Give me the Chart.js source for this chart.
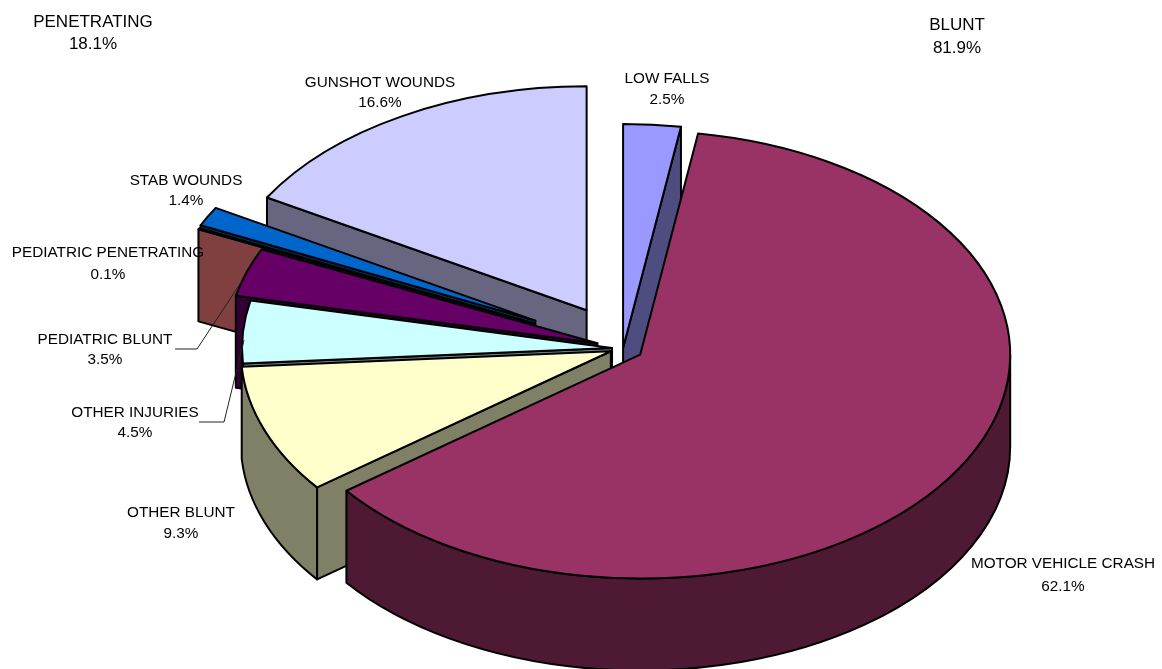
<!DOCTYPE html>
<html>
<head>
<meta charset="utf-8">
<script src="https://cdn.jsdelivr.net/npm/chart.js@4/dist/chart.umd.min.js"></script>
<style>html,body{margin:0;padding:0;background:#fff}#w{width:1162px;height:669px}</style>
</head>
<body>
<div id="w"><canvas id="c" width="1162" height="669"></canvas></div>
<script>
const categories = ['LOW FALLS','MOTOR VEHICLE CRASH','OTHER BLUNT','OTHER INJURIES','PEDIATRIC BLUNT','PEDIATRIC PENETRATING','STAB WOUNDS','GUNSHOT WOUNDS'];
const shares = [2.5,62.1,9.3,4.5,3.5,0.1,1.4,16.6];
const groupNames = ['PENETRATING','BLUNT'];
const groupShares = [18.1,81.9];

// styles
const topColors = ['#9999FF','#993366','#FFFFCC','#CCFFFF','#660066','#FF8080','#0066CC','#CCCCFF'];
const wallColors = ['#4D4D80','#4D1933','#808066','#668080','#330033','#804040','#003366','#666680'];
const explode = [1,20,13,11,27,98,99,73];
const drawOrder = [7,6,5,4,3,2,0,1];
const view = {cx:623, cy:348.5, radius:370, tilt:0.605, depth:92};
const labelPos = [[667,83,104],[1063,568,591],[181,517,538],[135,417,437],[105,344,364],[108,257,279],[186,185,205],[380,87,107]];
const groupPos = [[93,27,49],[957,30,53]];
const leaders = [[[175,349],[197,349],[242,281]],[[199,422],[224,422],[244,340]]];

const pie3d = {
  id:'pie3d',
  beforeDatasetDraw(chart, args){
    const ctx = chart.ctx, arcs = args.meta.data;
    const k = view.tilt, D = view.depth;
    drawOrder.forEach(i=>{
      const a = arcs[i];
      const s = a.startAngle, e = a.endAngle, R = a.outerRadius, mid=(s+e)/2;
      const px = view.cx + Math.cos(mid)*explode[i];
      const py = view.cy + Math.sin(mid)*explode[i]*k;
      const rx = R, ry = R*k;
      ctx.save();
      ctx.lineWidth = 2; ctx.strokeStyle='#000'; ctx.lineJoin='round';
      ctx.fillStyle = wallColors[i];
      // radial walls that face the viewer
      [[s,Math.cos(s)<0],[e,Math.cos(e)>0]].forEach(([t,facing])=>{
        if(!facing) return;
        const qx = px+Math.cos(t)*rx, qy = py+Math.sin(t)*ry;
        ctx.beginPath();
        ctx.moveTo(px,py); ctx.lineTo(qx,qy); ctx.lineTo(qx,qy+D); ctx.lineTo(px,py+D); ctx.closePath();
        ctx.fill(); ctx.stroke();
      });
      // outer rim, front half only
      [[0,Math.PI],[2*Math.PI,3*Math.PI]].forEach(([lo,hi])=>{
        const a0=Math.max(s,lo), a1=Math.min(e,hi);
        if(a1>a0){
          ctx.beginPath();
          ctx.ellipse(px,py,rx,ry,0,a0,a1);
          ctx.ellipse(px,py+D,rx,ry,0,a1,a0,true);
          ctx.closePath();
          ctx.fill(); ctx.stroke();
        }
      });
      // top face, filled by the library's own arc element under a tilt transform
      ctx.save();
      ctx.translate(px,py); ctx.scale(1,k); ctx.translate(-a.x,-a.y);
      a.draw(ctx);
      ctx.restore();
      ctx.beginPath();
      ctx.moveTo(px,py);
      ctx.ellipse(px,py,rx,ry,0,s,e);
      ctx.closePath();
      ctx.stroke();
      ctx.restore();
    });
    return false;
  },
  afterDraw(chart){
    const ctx = chart.ctx;
    ctx.save();
    ctx.strokeStyle='#222'; ctx.lineWidth=1;
    leaders.forEach(l=>{
      ctx.beginPath();
      l.forEach((p,i)=> i?ctx.lineTo(p[0],p[1]):ctx.moveTo(p[0],p[1]));
      ctx.stroke();
    });
    ctx.fillStyle='#000'; ctx.textAlign='center'; ctx.textBaseline='alphabetic';
    const put=(n,v,p)=>{ctx.fillText(n,p[0],p[1]);ctx.fillText(v.toFixed(1)+'%',p[0],p[2]);};
    ctx.font='15.3px "Liberation Sans", Arial, sans-serif';
    categories.forEach((n,i)=>put(n,shares[i],labelPos[i]));
    ctx.font='17px "Liberation Sans", Arial, sans-serif';
    groupNames.forEach((n,i)=>put(n,groupShares[i],groupPos[i]));
    ctx.restore();
  }
};

new Chart(document.getElementById('c'),{
  type:'pie',
  data:{labels:categories,datasets:[{data:shares,backgroundColor:topColors,borderWidth:0}]},
  options:{
    responsive:false,animation:false,radius:view.radius,
    plugins:{legend:{display:false},tooltip:{enabled:false},title:{display:false}}
  },
  plugins:[pie3d]
});
</script>
</body>
</html>
